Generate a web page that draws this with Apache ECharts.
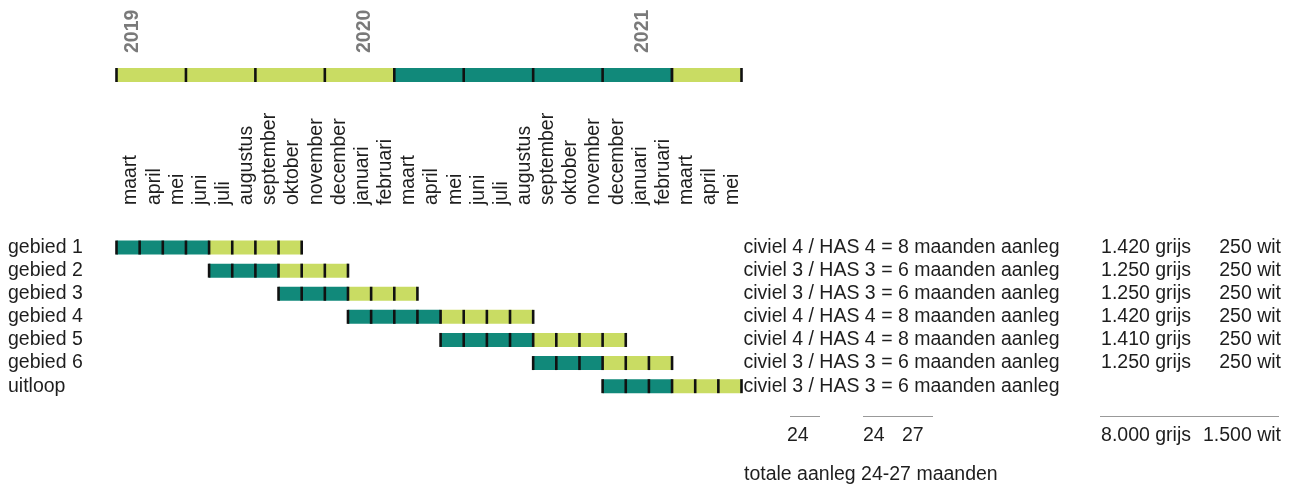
<!DOCTYPE html>
<html>
<head>
<meta charset="utf-8">
<script src="https://cdn.jsdelivr.net/npm/echarts@6/dist/echarts.min.js"></script>
<style>
  html, body { margin: 0; padding: 0; background: #ffffff; }
  #c { width: 1293px; height: 488px; }
</style>
</head>
<body>
<div id="c"></div>
<script>
// Maanden op de tijdas (maart 2019 t/m mei 2021)
const maanden = ['maart','april','mei','juni','juli','augustus','september','oktober','november','december','januari','februari',
                 'maart','april','mei','juni','juli','augustus','september','oktober','november','december','januari','februari',
                 'maart','april','mei'];
// Jaarlabels boven de tijdbalk (leeg = geen label)
const jaren = ['2019','','','','','','','','','','2020','','','','','','','','','','','','2021','','','',''];

// Gebieden en planning (in maanden vanaf maart 2019)
const gebieden   = ['gebied 1','gebied 2','gebied 3','gebied 4','gebied 5','gebied 6','uitloop'];
const startMaand = [0, 4, 7, 10, 14, 18, 21];
const civiel     = [4, 3, 3, 4, 4, 3, 3];
const has        = [4, 3, 3, 4, 4, 3, 3];
const grijs      = [1420, 1250, 1250, 1420, 1410, 1250, null];
const wit        = [250, 250, 250, 250, 250, 250, null];

// Fasen van de bovenste tijdbalk
const faseStart = [0, 12, 24];
const faseEind  = [12, 24, 27];
const faseSoort = ['licht', 'donker', 'licht'];
const kwartaal = 3;

const TEAL = '#11897a';
const LIME = '#c9dc63';
const MARK = '#111111';
const TEKST = '#1e1e1e';
const FONT = '"Liberation Sans", Arial, Helvetica, sans-serif';
const FS = 19.5;
const kleur = { licht: LIME, donker: TEAL };

const nl = n => String(n).replace(/\B(?=(\d{3})+(?!\d))/g, '.');
const som = a => a.reduce((t, v) => t + (v || 0), 0);

const civielTekst = gebieden.map((g, i) =>
  `civiel ${civiel[i]} / HAS ${has[i]} = ${civiel[i] + has[i]} maanden aanleg`);
const grijsTekst = grijs.map(v => v == null ? '' : `${nl(v)} grijs`);
const witTekst = wit.map(v => v == null ? '' : `${nl(v)} wit`);

const totaalCiviel = som(civiel);
const totaalHas = som(has);
const looptijd = Math.max(...startMaand.map((s, i) => s + civiel[i] + has[i]));
const totaalGrijs = som(grijs);
const totaalWit = som(wit);

const X0 = 116.5, X1 = 741.5, W = 1293;
const BALK = 14;

function markering(p, h) {
  return { type: 'rect', shape: { x: p[0] - 1.3, y: p[1] - h / 2, width: 2.6, height: h }, style: { fill: MARK } };
}

function tekenFase(params, api) {
  const a = api.value(0), b = api.value(1), soort = faseSoort[params.dataIndex];
  const p0 = api.coord([a, 0]), p1 = api.coord([b, 0]);
  const children = [{ type: 'rect', shape: { x: p0[0], y: p0[1] - BALK / 2, width: p1[0] - p0[0], height: BALK }, style: { fill: kleur[soort] } }];
  for (let m = a; m <= b; m += kwartaal) children.push(markering(api.coord([m, 0]), BALK));
  return { type: 'group', children };
}

function tekenGebied(params, api) {
  const rij = api.value(0), s = api.value(1), c = api.value(2), h = api.value(3);
  const p0 = api.coord([s, rij]), p1 = api.coord([s + c, rij]), p2 = api.coord([s + c + h, rij]);
  const children = [
    { type: 'rect', shape: { x: p0[0], y: p0[1] - BALK / 2, width: p1[0] - p0[0], height: BALK }, style: { fill: TEAL } },
    { type: 'rect', shape: { x: p1[0], y: p1[1] - BALK / 2, width: p2[0] - p1[0], height: BALK }, style: { fill: LIME } }
  ];
  for (let m = s; m <= s + c + h; m++) children.push(markering(api.coord([m, rij]), BALK));
  return { type: 'group', children };
}

const verborgen = { axisLine: { show: false }, axisTick: { show: false }, splitLine: { show: false } };

const chart = echarts.init(document.getElementById('c'), null, { renderer: 'canvas' });
chart.setOption({
  animation: false,
  backgroundColor: '#ffffff',
  grid: [
    { left: X0, right: W - X1, top: 68, height: BALK },
    { left: X0, right: W - X1, top: 236, height: 7 * 23.1 },
    // labelrasters, licht verschoven t.o.v. de maandvakken
    { left: X0 + 5, right: W - X1 - 5, top: 68, height: BALK },
    { left: X0 + 3, right: W - X1 - 3, top: 236, height: 7 * 23.1 }
  ],
  xAxis: [
    { type: 'value', gridIndex: 0, min: 0, max: 27, show: false },
    { type: 'category', gridIndex: 2, position: 'top', data: jaren, ...verborgen,
      axisLabel: { interval: 0, rotate: -90, margin: 15, color: '#7a7a7a', fontWeight: 'bold', fontSize: FS, fontFamily: FONT } },
    { type: 'value', gridIndex: 1, min: 0, max: 27, show: false },
    { type: 'category', gridIndex: 3, position: 'top', data: maanden, ...verborgen,
      axisLabel: { interval: 0, rotate: -90, margin: 31, color: TEKST, fontSize: FS, fontFamily: FONT } }
  ],
  yAxis: [
    { type: 'category', gridIndex: 0, data: [''], show: false },
    { type: 'category', gridIndex: 1, data: gebieden, inverse: true, position: 'left', ...verborgen,
      axisLabel: { interval: 0, align: 'left', margin: X0 - 8, color: TEKST, fontSize: FS, fontFamily: FONT } },
    { type: 'category', gridIndex: 1, data: civielTekst, inverse: true, position: 'right', ...verborgen,
      axisLabel: { interval: 0, align: 'left', margin: 2, color: TEKST, fontSize: FS, fontFamily: FONT } },
    { type: 'category', gridIndex: 1, data: grijsTekst, inverse: true, position: 'right', offset: 1191 - X1, ...verborgen,
      axisLabel: { interval: 0, align: 'right', margin: 0, color: TEKST, fontSize: FS, fontFamily: FONT } },
    { type: 'category', gridIndex: 1, data: witTekst, inverse: true, position: 'right', offset: 1281 - X1, ...verborgen,
      axisLabel: { interval: 0, align: 'right', margin: 0, color: TEKST, fontSize: FS, fontFamily: FONT } },
    { type: 'category', gridIndex: 2, data: [''], show: false },
    { type: 'category', gridIndex: 3, data: [''], show: false }
  ],
  series: [
    { type: 'custom', xAxisIndex: 0, yAxisIndex: 0, renderItem: tekenFase,
      data: faseStart.map((s, i) => [s, faseEind[i]]) },
    { type: 'custom', xAxisIndex: 2, yAxisIndex: 1, renderItem: tekenGebied,
      data: gebieden.map((g, i) => [i, startMaand[i], civiel[i], has[i]]) }
  ],
  graphic: [
    { type: 'line', shape: { x1: 790, y1: 416.5, x2: 820, y2: 416.5 }, style: { stroke: '#999', lineWidth: 1 } },
    { type: 'line', shape: { x1: 863, y1: 416.5, x2: 933, y2: 416.5 }, style: { stroke: '#999', lineWidth: 1 } },
    { type: 'line', shape: { x1: 1100, y1: 416.5, x2: 1279, y2: 416.5 }, style: { stroke: '#999', lineWidth: 1 } },
    { type: 'text', x: 787, y: 436, style: { text: String(totaalCiviel), fill: TEKST, font: `${FS}px ${FONT}`, textVerticalAlign: 'middle' } },
    { type: 'text', x: 863, y: 436, style: { text: String(totaalHas), fill: TEKST, font: `${FS}px ${FONT}`, textVerticalAlign: 'middle' } },
    { type: 'text', x: 902, y: 436, style: { text: String(looptijd), fill: TEKST, font: `${FS}px ${FONT}`, textVerticalAlign: 'middle' } },
    { type: 'text', x: 1191, y: 436, style: { text: `${nl(totaalGrijs)} grijs`, fill: TEKST, font: `${FS}px ${FONT}`, textAlign: 'right', textVerticalAlign: 'middle' } },
    { type: 'text', x: 1281, y: 436, style: { text: `${nl(totaalWit)} wit`, fill: TEKST, font: `${FS}px ${FONT}`, textAlign: 'right', textVerticalAlign: 'middle' } },
    { type: 'text', x: 744, y: 475, style: { text: `totale aanleg ${totaalHas}-${looptijd} maanden`, fill: TEKST, font: `${FS}px ${FONT}`, textVerticalAlign: 'middle' } }
  ]
});
</script>
</body>
</html>
